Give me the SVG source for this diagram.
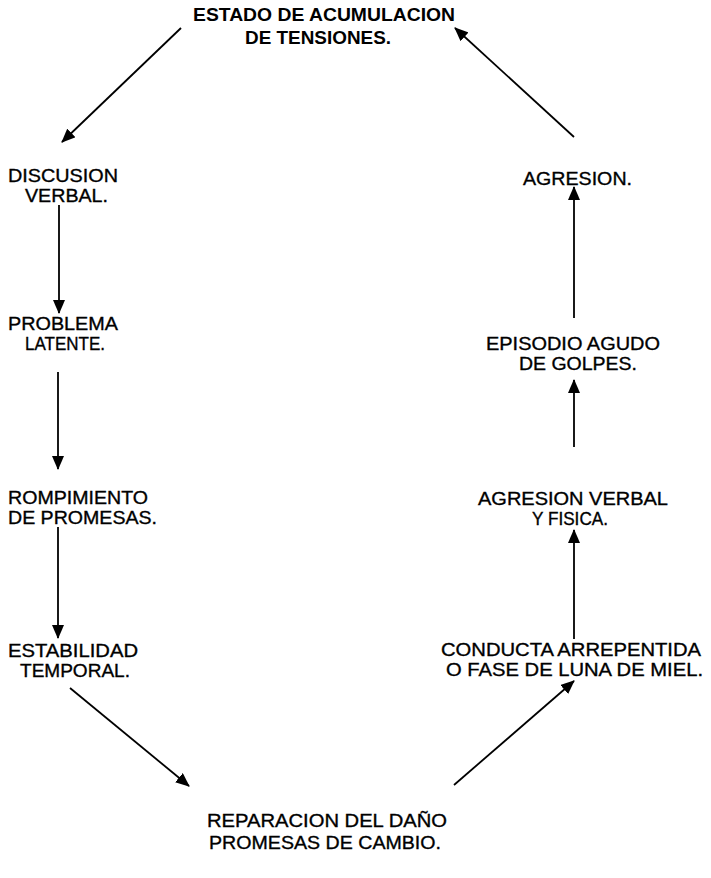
<svg xmlns="http://www.w3.org/2000/svg" width="711" height="878" viewBox="0 0 711 878">
<style>
text{font-family:"Liberation Sans",Arial,sans-serif;font-size:19px;fill:#000;stroke:#000;stroke-width:0.35}
.b{font-weight:bold;font-size:18.5px;stroke-width:0}
.c line{stroke:#000;stroke-width:1.8;marker-end:url(#ah)}
</style>
<defs>
<marker id="ah" markerUnits="userSpaceOnUse" markerWidth="14" markerHeight="12" viewBox="0 0 14 12" refX="13" refY="6" orient="auto">
<path d="M0,0 L14,6 L0,12 Z" fill="#000"/>
</marker>
</defs>
<rect width="711" height="878" fill="#fff"/>
<g id="n-estado"><text class="b" x="193" y="21" textLength="262" lengthAdjust="spacingAndGlyphs">ESTADO DE ACUMULACION</text><text class="b" x="245" y="44" textLength="146" lengthAdjust="spacingAndGlyphs">DE TENSIONES.</text></g>
<g id="n-discusion"><text x="8" y="182" textLength="110" lengthAdjust="spacingAndGlyphs">DISCUSION</text><text x="25" y="202" textLength="83" lengthAdjust="spacingAndGlyphs">VERBAL.</text></g>
<g id="n-problema"><text x="8" y="330" textLength="110" lengthAdjust="spacingAndGlyphs">PROBLEMA</text><text x="25" y="350" textLength="80" lengthAdjust="spacingAndGlyphs">LATENTE.</text></g>
<g id="n-rompimiento"><text x="8" y="504" textLength="140" lengthAdjust="spacingAndGlyphs">ROMPIMIENTO</text><text x="8" y="524" textLength="149" lengthAdjust="spacingAndGlyphs">DE PROMESAS.</text></g>
<g id="n-estabilidad"><text x="8" y="657" textLength="130" lengthAdjust="spacingAndGlyphs">ESTABILIDAD</text><text x="20" y="677" textLength="110" lengthAdjust="spacingAndGlyphs">TEMPORAL.</text></g>
<g id="n-reparacion"><text x="207" y="827" textLength="240" lengthAdjust="spacingAndGlyphs">REPARACION DEL DAÑO</text><text x="209" y="849" textLength="232" lengthAdjust="spacingAndGlyphs">PROMESAS DE CAMBIO.</text></g>
<g id="n-conducta"><text x="441" y="656" textLength="260" lengthAdjust="spacingAndGlyphs">CONDUCTA ARREPENTIDA</text><text x="446" y="676" textLength="257" lengthAdjust="spacingAndGlyphs">O FASE DE LUNA DE MIEL.</text></g>
<g id="n-agresion-verbal"><text x="478" y="505" textLength="190" lengthAdjust="spacingAndGlyphs">AGRESION VERBAL</text><text x="532" y="525" textLength="76" lengthAdjust="spacingAndGlyphs">Y FISICA.</text></g>
<g id="n-episodio"><text x="486" y="350" textLength="174" lengthAdjust="spacingAndGlyphs">EPISODIO AGUDO</text><text x="519" y="370" textLength="118" lengthAdjust="spacingAndGlyphs">DE GOLPES.</text></g>
<g id="n-agresion"><text x="523" y="185" textLength="109" lengthAdjust="spacingAndGlyphs">AGRESION.</text></g>
<g id="connectors" class="c">
<line x1="181" y1="28" x2="62" y2="142"/>
<line x1="59" y1="205" x2="59" y2="313"/>
<line x1="58" y1="372" x2="58" y2="469"/>
<line x1="58" y1="527" x2="58" y2="638"/>
<line x1="70" y1="688" x2="189" y2="786"/>
<line x1="454" y1="785" x2="574" y2="681"/>
<line x1="574" y1="639" x2="574" y2="530"/>
<line x1="574" y1="447" x2="574" y2="380"/>
<line x1="574" y1="318" x2="574" y2="187"/>
<line x1="574" y1="137" x2="455" y2="28"/>
</g>
</svg>
